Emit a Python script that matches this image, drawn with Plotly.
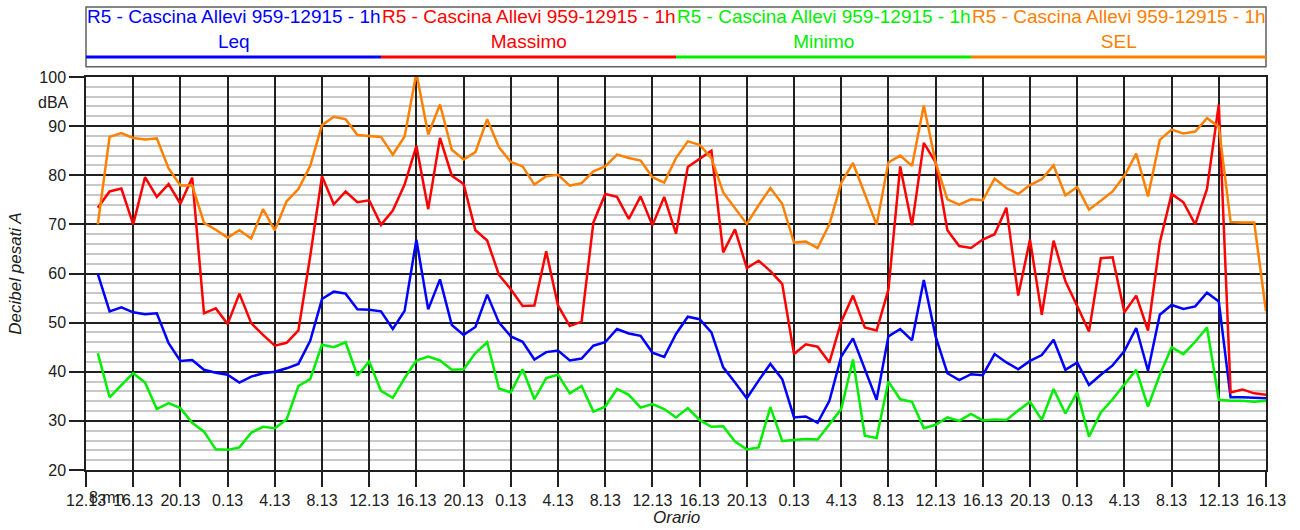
import plotly.graph_objects as go

# hourly samples, hour 0 = 12.13 of the first day
hours = list(range(1, 101))

tick_hours = list(range(0, 101, 4))
tick_labels = ["12.13", "16.13", "20.13", "0.13", "4.13", "8.13",
               "12.13", "16.13", "20.13", "0.13", "4.13", "8.13",
               "12.13", "16.13", "20.13", "0.13", "4.13", "8.13",
               "12.13", "16.13", "20.13", "0.13", "4.13", "8.13",
               "12.13", "16.13"]

leq = [59.9, 52.3, 53.1, 52.1, 51.7, 51.9, 45.8, 42.2, 42.4, 40.4,
       39.8, 39.4, 37.8, 39.0, 39.7, 40.0, 40.7, 41.6, 46.3, 54.8,
       56.3, 55.9, 52.7, 52.6, 52.3, 48.7, 52.4, 66.9, 52.7, 58.8,
       49.5, 47.5, 49.1, 55.7, 50.0, 47.2, 46.1, 42.5, 44.0, 44.3,
       42.3, 42.7, 45.3, 46.0, 48.7, 47.8, 47.3, 43.9, 43.0, 47.7,
       51.2, 50.7, 48.0, 40.9, 37.8, 34.6, 38.2, 41.6, 38.5, 30.7,
       30.9, 29.6, 34.1, 43.1, 46.8, 40.7, 34.3, 47.2, 48.7, 46.4,
       58.7, 47.2, 39.7, 38.3, 39.5, 39.3, 43.6, 41.9, 40.5, 42.2,
       43.4, 46.5, 40.4, 41.9, 37.3, 39.4, 41.3, 44.2, 48.9, 40.2,
       51.6, 53.6, 52.8, 53.3, 56.1, 54.3, 34.8, 34.8, 34.7, 34.6]

massimo = [73.4, 76.7, 77.3, 70.0, 79.6, 75.6, 78.2, 74.2, 79.5, 51.9,
           52.9, 49.7, 55.9, 49.9, 47.5, 45.3, 45.9, 48.4, 63.5, 79.8,
           74.1, 76.7, 74.5, 74.9, 69.9, 72.8, 78.1, 86.0, 73.1, 87.6,
           79.9, 78.2, 68.8, 66.7, 59.7, 56.8, 53.4, 53.5, 64.5, 53.5,
           49.3, 50.2, 70.4, 76.2, 75.6, 71.1, 75.7, 69.8, 75.6, 68.1,
           81.7, 83.3, 85.0, 64.3, 69.0, 61.1, 62.6, 60.5, 57.9, 43.6,
           45.6, 45.1, 41.9, 50.2, 55.5, 49.0, 48.4, 56.7, 81.8, 69.8,
           86.6, 82.6, 68.8, 65.6, 65.2, 66.9, 68.0, 73.4, 55.5, 66.9,
           51.6, 66.7, 58.4, 53.4, 48.2, 63.1, 63.3, 52.1, 55.5, 48.4,
           66.3, 76.2, 74.5, 70.0, 77.2, 94.4, 35.8, 36.4, 35.6, 35.3]

minimo = [43.8, 34.8, 37.3, 39.7, 37.8, 32.4, 33.6, 32.6, 29.6, 27.8,
          24.2, 24.1, 24.6, 27.6, 28.8, 28.5, 30.3, 37.1, 38.5, 45.5,
          45.0, 46.0, 39.2, 42.1, 36.1, 34.7, 38.7, 42.3, 43.1, 42.3,
          40.4, 40.5, 43.8, 46.0, 36.6, 35.8, 40.5, 34.4, 38.7, 39.4,
          35.6, 37.1, 31.9, 32.9, 36.5, 35.3, 32.7, 33.4, 32.4, 30.7,
          32.6, 30.2, 28.8, 28.9, 25.8, 24.2, 24.6, 32.8, 25.9, 26.1,
          26.3, 26.2, 29.2, 32.4, 42.5, 27.0, 26.5, 38.0, 34.4, 33.9,
          28.5, 29.2, 30.7, 30.0, 31.4, 30.1, 30.3, 30.2, 32.1, 33.9,
          30.2, 36.5, 31.5, 35.8, 26.8, 31.7, 34.4, 37.3, 40.4, 32.9,
          39.4, 45.0, 43.6, 46.1, 49.0, 34.3, 34.1, 34.1, 33.9, 34.1]

sel = [70.0, 87.8, 88.6, 87.6, 87.3, 87.5, 81.4, 77.9, 77.9, 70.3,
       68.9, 67.3, 68.8, 67.1, 73.1, 68.8, 74.7, 77.2, 81.9, 90.2,
       91.9, 91.4, 88.2, 88.0, 87.8, 84.2, 87.9, 100.8, 88.3, 94.4,
       85.2, 83.2, 84.7, 91.4, 85.7, 82.7, 81.8, 78.1, 79.8, 80.1,
       77.9, 78.4, 80.8, 81.8, 84.2, 83.5, 83.0, 79.6, 78.5, 83.5,
       86.9, 86.2, 83.5, 76.5, 73.3, 70.1, 73.9, 77.4, 74.2, 66.3,
       66.5, 65.2, 70.0, 78.4, 82.5, 76.4, 69.9, 82.6, 84.0, 81.9,
       94.2, 82.6, 75.1, 74.0, 75.1, 74.9, 79.3, 77.4, 76.2, 78.0,
       79.2, 82.0, 75.9, 77.6, 73.0, 74.8, 76.7, 79.9, 84.4, 75.7,
       87.2, 89.3, 88.5, 88.9, 91.6, 89.9, 70.5, 70.4, 70.4, 52.3]

station = "R5 - Cascina Allevi 959-12915 - 1h"
series = [("Leq", leq, "#0000ff"),
          ("Massimo", massimo, "#ff0000"),
          ("Minimo", minimo, "#00ee00"),
          ("SEL", sel, "#ff8000")]

FONT = "Arial, Liberation Sans, sans-serif"

fig = go.Figure()

for name, values, color in series:
    fig.add_trace(go.Scatter(
        x=hours, y=values,
        mode='lines',
        line=dict(color=color, width=2.5),
        name=name,
        showlegend=False
    ))

# legend drawn by hand: boxed row of 4 entries, text above a coloured line
shapes = [dict(type='rect', xref='paper', yref='paper',
               x0=0, x1=1, y0=1.026, y1=1.178,
               line=dict(color='#606060', width=1.5), fillcolor='white')]
annotations = []
n = len(series)
for i, (name, values, color) in enumerate(series):
    shapes.append(dict(type='line', xref='paper', yref='paper',
                       x0=i / n, x1=(i + 1) / n, y0=1.051, y1=1.051,
                       line=dict(color=color, width=3)))
    annotations.append(dict(xref='paper', yref='paper',
                            x=(i + 0.5) / n, y=1.122,
                            text=f"{station}<br>{name}",
                            showarrow=False, align='center',
                            xanchor='center', yanchor='middle',
                            font=dict(family=FONT, size=19, color=color)))

annotations += [
    dict(xref='paper', yref='paper', x=-0.013, y=0.934, text="dBA",
         showarrow=False, xanchor='right', yanchor='middle',
         font=dict(family=FONT, size=16, color='#202020')),
    dict(xref='paper', yref='paper', x=-0.060, y=0.5, text="<i>Decibel pesati A</i>",
         showarrow=False, textangle=-90, xanchor='center', yanchor='middle',
         font=dict(family=FONT, size=17, color='#202020')),
    dict(xref='paper', yref='paper', x=0.5, y=-0.12, text="<i>Orario</i>",
         showarrow=False, xanchor='center', yanchor='middle',
         font=dict(family=FONT, size=17, color='#202020')),
    dict(xref='paper', yref='paper', x=0.001, y=-0.069, text="8.mn",
         showarrow=False, xanchor='left', yanchor='middle',
         font=dict(family=FONT, size=16, color='#202020')),
]

fig.update_layout(
    width=1300, height=530,
    margin=dict(l=86, r=34, t=77, b=60),
    paper_bgcolor='white', plot_bgcolor='white',
    font=dict(family=FONT, size=16, color='#202020'),
    shapes=shapes,
    annotations=annotations,
    xaxis=dict(
        range=[0, 100],
        tickmode='array', tickvals=tick_hours, ticktext=tick_labels,
        tickangle=0,
        ticks='outside', ticklen=15, tickwidth=1.5, tickcolor='#202020',
        showgrid=True, gridcolor='#202020', gridwidth=1.5,
        showline=True, linecolor='#202020', linewidth=1.5, mirror=True,
        zeroline=False,
    ),
    yaxis=dict(
        range=[20, 100],
        tickmode='linear', tick0=20, dtick=10,
        ticks='outside', ticklen=15, tickwidth=1.5, tickcolor='#202020',
        showgrid=True, gridcolor='#202020', gridwidth=1.5,
        minor=dict(dtick=2, showgrid=True, gridcolor='#c8c8c8', gridwidth=1.5),
        showline=True, linecolor='#202020', linewidth=1.5, mirror=True,
        zeroline=False,
    ),
)

fig.write_html("out.html", config={'displayModeBar': False},
               post_script="document.body.style.margin='0';")
